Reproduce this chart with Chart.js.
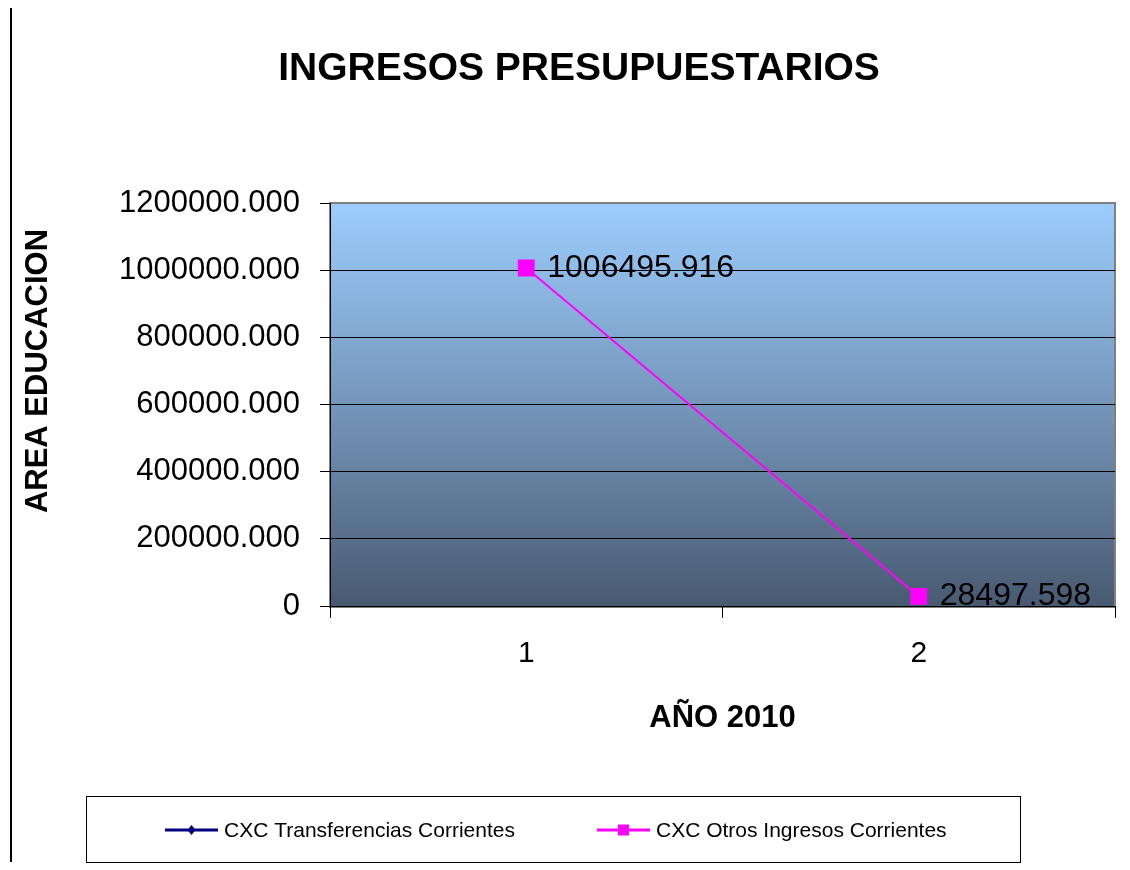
<!DOCTYPE html>
<html>
<head>
<meta charset="utf-8">
<script src="https://cdn.jsdelivr.net/npm/chart.js@4/dist/chart.umd.min.js"></script>
<style>
  html, body { margin: 0; padding: 0; background: #ffffff; }
  #wrap { width: 1130px; height: 870px; }
</style>
</head>
<body>
<div id="wrap"><canvas id="c" width="1130" height="870"></canvas></div>
<script>
const chartTitle = 'INGRESOS PRESUPUESTARIOS';
const yAxisTitle = 'AREA EDUCACION';
const xAxisTitle = 'AÑO 2010';
const categories = ['1', '2'];
const seriesNames = ['CXC Transferencias Corrientes', 'CXC Otros Ingresos Corrientes'];
const transferenciasValues = [null, null];
const otrosIngresosValues = [1006495.916, 28497.598];
const dataLabels = ['1006495.916', '28497.598'];
const yTickLabels = ['0', '200000.000', '400000.000', '600000.000', '800000.000', '1000000.000', '1200000.000'];
const yMax = 1200000;
const yStep = 200000;

const FONT = '"Liberation Sans", Arial, sans-serif';

const framePlugin = {
  id: 'frame',
  beforeDraw(chart) {
    const ctx = chart.ctx;
    const a = chart.chartArea;
    ctx.save();
    const g = ctx.createLinearGradient(0, a.top, 0, a.bottom);
    g.addColorStop(0, '#9ccdfd');
    g.addColorStop(0.5, '#7596bb');
    g.addColorStop(1, '#485a71');
    ctx.fillStyle = g;
    ctx.fillRect(a.left, a.top, a.right - a.left, a.bottom - a.top);
    ctx.strokeStyle = '#808080';
    ctx.lineWidth = 2;
    ctx.strokeRect(a.left, a.top, a.right - a.left, a.bottom - a.top + 1);
    // left page rule
    ctx.strokeStyle = '#000000';
    ctx.lineWidth = 2;
    ctx.beginPath();
    ctx.moveTo(11, 8);
    ctx.lineTo(11, 862);
    ctx.stroke();
    ctx.restore();
  },
  afterDatasetsDraw(chart) {
    const ctx = chart.ctx;
    const meta = chart.getDatasetMeta(1);
    ctx.save();
    ctx.font = '32px ' + FONT;
    ctx.fillStyle = '#000000';
    ctx.textAlign = 'left';
    ctx.textBaseline = 'middle';
    meta.data.forEach((pt, i) => {
      ctx.fillText(dataLabels[i], pt.x + 21, pt.y);
    });
    ctx.restore();
  },
  afterDraw(chart) {
    const ctx = chart.ctx;
    ctx.save();
    // chart title
    ctx.fillStyle = '#000000';
    ctx.font = 'bold 39px ' + FONT;
    ctx.textAlign = 'center';
    ctx.textBaseline = 'middle';
    ctx.fillText(chartTitle, 579, 69);
    // y axis title
    ctx.save();
    ctx.translate(38, 371);
    ctx.rotate(-Math.PI / 2);
    ctx.font = 'bold 31px ' + FONT;
    ctx.fillText(yAxisTitle, 0, 0);
    ctx.restore();
    // legend box
    ctx.strokeStyle = '#000000';
    ctx.lineWidth = 1;
    ctx.strokeRect(86.5, 796.5, 934, 66);
    ctx.font = '21px ' + FONT;
    ctx.textBaseline = 'middle';
    ctx.textAlign = 'left';
    let x = 165;
    const y = 830;
    chart.data.datasets.forEach((ds) => {
      ctx.strokeStyle = ds.borderColor;
      ctx.lineWidth = 3;
      ctx.beginPath();
      ctx.moveTo(x, y);
      ctx.lineTo(x + 53, y);
      ctx.stroke();
      ctx.fillStyle = ds.borderColor;
      const cx = x + 26.5;
      if (ds.pointStyle === 'rectRot') {
        ctx.beginPath();
        ctx.moveTo(cx, y - 5);
        ctx.lineTo(cx + 4, y);
        ctx.lineTo(cx, y + 5);
        ctx.lineTo(cx - 4, y);
        ctx.closePath();
        ctx.fill();
      } else {
        ctx.fillRect(cx - 5.5, y - 5.5, 11, 11);
      }
      ctx.fillStyle = '#000000';
      ctx.fillText(ds.label, x + 59, y + 1);
      const w = ctx.measureText(ds.label).width;
      x = x + 59 + w + 82;
    });
    ctx.restore();
  }
};

new Chart(document.getElementById('c'), {
  type: 'line',
  data: {
    labels: categories,
    datasets: [
      {
        label: seriesNames[0],
        data: transferenciasValues,
        borderColor: '#000080',
        backgroundColor: '#000080',
        borderWidth: 2,
        pointStyle: 'rectRot',
        pointRadius: 5,
        fill: false
      },
      {
        label: seriesNames[1],
        data: otrosIngresosValues,
        borderColor: '#ff00ff',
        backgroundColor: '#ff00ff',
        borderWidth: 2,
        pointStyle: 'rect',
        pointRadius: 10.5,
        pointHoverRadius: 10.5,
        fill: false
      }
    ]
  },
  options: {
    responsive: false,
    animation: false,
    layout: { padding: { left: 0, right: 15, top: 203, bottom: 0 } },
    plugins: {
      legend: { display: false },
      tooltip: { enabled: false },
      title: { display: false }
    },
    scales: {
      x: {
        type: 'category',
        offset: true,
        grid: {
          offset: true,
          drawOnChartArea: false,
          drawTicks: true,
          tickLength: 12,
          tickColor: '#000000',
          color: '#000000'
        },
        border: { color: '#000000', width: 1 },
        ticks: {
          color: '#000000',
          font: { family: FONT, size: 30 },
          padding: 18,
          maxRotation: 0
        },
        title: {
          display: true,
          text: xAxisTitle,
          color: '#000000',
          font: { family: FONT, size: 31, weight: 'bold' },
          padding: { top: 0, bottom: 133 }
        },
        afterFit(scale) { scale.height = 264; }
      },
      y: {
        min: 0,
        max: yMax,
        grid: {
          color: (c) => (c.tick && c.tick.value === yMax ? 'rgba(0,0,0,0)' : '#000000'),
          tickColor: '#000000',
          tickLength: 10,
          lineWidth: 1
        },
        border: { color: '#000000', width: 1 },
        ticks: {
          stepSize: yStep,
          color: '#000000',
          font: { family: FONT, size: 31 },
          padding: 20,
          callback: (v, i) => yTickLabels[i]
        },
        title: { display: false },
        afterFit(scale) { scale.width = 330; }
      }
    }
  },
  plugins: [framePlugin]
});
</script>
</body>
</html>
